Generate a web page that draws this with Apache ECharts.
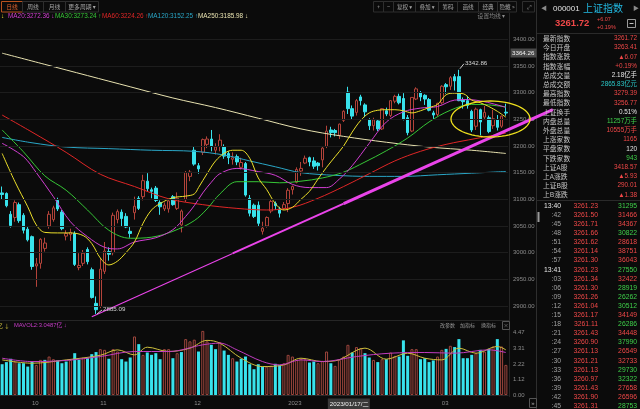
<!DOCTYPE html>
<html>
<head>
<meta charset="utf-8">
<script src="https://cdn.jsdelivr.net/npm/echarts@6.0.0/dist/echarts.min.js"></script>
<style>
html,body{margin:0;padding:0;background:#0b0b0b;overflow:hidden;}
#chart{width:640px;height:409px;}
</style>
</head>
<body>
<div id="chart"></div>
<script>
// ================= DATA =================
const sepDays = [22,23,26,27,28,29,30];
const octDays = [10,11,12,13,14,17,18,19,20,21,24,25,26,27,28,31];
const novDays = [1,2,3,4,7,8,9,10,11,14,15,16,17,18,21,22,23,24,25,28,29,30];
const decDays = [1,2,5,6,7,8,9,12,13,14,15,16,19,20,21,22,23,26,27,28,29,30];
const janDays = [3,4,5,6,9,10,11,12,13,16,17,18,19,20,30,31];
const febDays = [1,2,3,6,7,8,9,10,13,14,15,16,17,20,21,22,23,24,27,28];
const marDays = [1,2,3,6,7,8,9,10,13,14,15,16,17,20,21,22];
const monthTickLabels = ['10','11','12','2023','02','03'];

const opens = [3112,3111,3072,3066,3090,3070,3044,3030,2975,2980,
 3008,3050,3062,3098,3076,3031,3034,3036,2972,2980,
 3006,2968,2905,2899,2965,3002,3000,3062,3076,3068,
 3040,3075,3102,3105,3134,3118,3121,3094,3082,3082,
 3105,3083,3052,3099,3143,3192,3163,3188,3203,3213,
 3192,3199,3198,3186,3175,3180,3160,3167,3102,3089,
 3089,3040,3050,3078,3092,3082,3083,3092,3118,3132,
 3153,3168,3178,3172,3168,3174,3199,3230,3229,3220,
 3248,3301,3270,3263,3292,3277,3249,3238,3247,3232,
 3266,3257,3284,3293,3289,3253,3228,3288,3300,3295,
 3287,3262,3259,3281,3315,3312,3330,3330,3286,3285,
 3265,3237,3268,3254,3253,3238,3249,3237,3263.41];
const closes = [3109,3088,3051,3094,3060,3042,3024,2974,2979,3025,
 3018,3072,3084,3082,3045,3036,3038,2978,2976,2999,
 2983,2916,2893,2969,3003,2997,3070,3077,3064,3048,
 3036,3087,3083,3135,3120,3115,3098,3086,3089,3097,
 3090,3102,3078,3150,3151,3166,3157,3212,3213,3200,
 3198,3211,3181,3178,3178,3170,3169,3108,3074,3068,
 3055,3046,3066,3096,3088,3074,3090,3117,3124,3156,
 3158,3177,3170,3162,3163,3196,3228,3225,3225,3241,
 3265,3270,3256,3285,3285,3264,3238,3249,3232,3270,
 3260,3285,3293,3281,3250,3225,3291,3307,3292,3288,
 3267,3258,3280,3312,3311,3328,3322,3285,3283,3276,
 3230,3269,3245,3263,3227,3251,3235,3256,3261.72];
const lows = [3100,3085,3047,3058,3056,3036,3021,2968,2936,2970,
 3002,3045,3058,3078,3042,3023,3022,2975,2967,2975,
 2978,2914,2885.09,2896,2960,2985,2995,3055,3050,3046,
 3028,3062,3080,3098,3115,3102,3095,3071,3078,3075,
 3088,3080,3038,3095,3134,3163,3148,3183,3196,3190,
 3184,3190,3176,3166,3165,3164,3156,3105,3068,3065,
 3050,3034,3047,3074,3080,3066,3080,3076,3109,3130,
 3144,3166,3162,3157,3154,3160,3196,3216,3218,3213,
 3245,3260,3250,3257,3276,3254,3230,3229,3228,3230,
 3256,3254,3280,3278,3248,3220,3226,3286,3284,3277,
 3265,3249,3256,3278,3298,3305,3304,3284,3270,3270,
 3226,3230,3220,3250,3224,3232,3229,3234,3256.77];
const highs = [3124,3113,3078,3098,3094,3074,3048,3032,2990,3027,
 3028,3078,3088,3103,3080,3042,3045,3040,2999,3005,
 3010,2972,2918,2990,3020,3010,3075,3081,3081,3074,
 3048,3105,3106,3146,3149,3122,3125,3098,3094,3100,
 3108,3113,3081,3153,3155,3198,3168,3214,3218,3230,
 3205,3222,3203,3190,3188,3184,3178,3170,3108,3092,
 3096,3058,3068,3100,3096,3086,3095,3121,3126,3160,
 3170,3182,3180,3179,3170,3198,3238,3236,3232,3242,
 3267,3311,3276,3288,3296,3280,3252,3253,3250,3271,
 3272,3286,3296,3298,3299,3258,3291,3310,3303,3297,
 3290,3266,3281,3314,3318,3331,3335,3342.86,3291,3294,
 3268,3272,3270,3275,3257,3268,3258,3257,3279.39];
// volume (亿手)
const volumes = [2.21,2.36,2.60,2.40,2.28,2.28,2.04,2.40,2.16,2.52,
 2.52,2.76,2.57,2.48,2.28,2.40,2.52,3.00,2.52,2.69,
 2.64,2.93,3.08,3.29,3.24,2.60,3.29,3.12,2.57,2.40,
 2.69,4.20,3.65,2.88,3.05,2.88,3.00,2.57,3.29,3.29,
 2.64,3.00,3.08,4.01,3.85,3.97,3.12,4.60,3.85,3.60,
 3.29,3.80,3.19,2.88,2.64,2.40,2.60,2.76,2.21,1.85,
 2.21,2.04,2.04,2.09,2.24,2.16,2.28,2.88,2.76,2.52,
 2.60,2.57,2.33,2.40,2.28,2.45,3.12,2.28,2.09,2.52,
 2.76,3.60,3.05,3.44,3.36,3.00,2.69,2.52,2.36,2.57,
 2.57,3.05,2.81,2.76,3.92,2.81,3.29,3.29,2.57,2.64,
 2.36,2.48,2.76,3.24,3.31,3.53,3.44,4.01,2.64,2.64,
 2.88,3.00,3.24,3.12,3.31,3.48,4.01,3.48,2.16];

// moving averages: [candle index, value]
const ma10 = [[0,3186],[3,3133],[6,3086],[8,3052],[10,3038],[13,3037],[16,3037],[19,3032],[21,3017],[23,2990],[25,2977],[27,2984],[29,3000],[31,3020],[33,3055],[35,3080],[37,3092],[40,3103],[43,3106],[45,3110],[46,3122],[48,3148],[50,3172],[52,3186],[54,3192],[56,3192],[58,3177],[60,3140],[62,3118],[64,3092],[66,3080],[68,3085],[70,3100],[72,3115],[74,3138],[76,3160],[78,3180],[80,3200],[82,3226],[84,3248],[86,3262],[88,3267],[90,3268],[92,3268],[94,3266],[96,3262],[98,3266],[100,3272],[102,3278],[104,3296],[106,3299],[108,3298],[110,3286],[112,3281],[114,3274],[116,3265],[118,3254]];
const ma20 = [[0,3205],[5,3180],[8,3150],[12,3105],[16,3058],[20,3030],[24,3010],[27,3007],[31,3020],[36,3028],[40,3043],[43,3068],[45,3088],[47,3112],[49,3132],[51,3148],[55,3158],[60,3152],[64,3145],[68,3128],[72,3122],[76,3122],[79,3138],[82,3163],[86,3205],[90,3245],[94,3264],[98,3271],[102,3274],[106,3286],[109,3287],[113,3283],[118,3272.36]];
const ma30 = [[0,3230],[5,3189],[10,3144],[15,3117],[20,3080],[25,3042],[30,3027],[35,3029],[40,3040],[45,3060],[48,3082],[51,3110],[55,3133],[60,3133],[65,3131],[70,3134],[75,3140],[80,3151],[85,3170],[90,3191],[95,3215],[100,3245],[105,3267],[110,3278],[114,3277],[118,3273.24]];
const ma60 = [[0,3258],[7,3226],[15,3188],[23,3147],[31,3124],[39,3101],[47,3090],[55,3083],[62,3080],[68,3085],[74,3102],[80,3124],[86,3148],[92,3172],[98,3190],[104,3203],[111,3214],[118,3224.26]];
const ma120 = [[0,3216],[7,3206],[15,3198],[25,3195],[35,3192],[45,3190],[52,3183],[58,3172],[64,3161],[70,3150],[78,3145],[86,3143],[94,3143],[102,3146],[110,3149],[118,3152.25]];
const ma250 = [[0,3374],[10,3353],[20,3332],[30,3311],[40,3290],[50,3272],[60,3252],[70,3232],[80,3218],[90,3207],[100,3198],[110,3192],[118,3185.98]];
const mavol1 = [[0,2.52],[7,2.28],[15,2.52],[23,2.85],[27,3.24],[31,2.88],[34,3.43],[39,3.12],[44,3.36],[48,3.92],[51,3.72],[56,2.64],[61,2.04],[66,2.16],[70,2.64],[75,2.40],[78,2.45],[85,3.36],[90,2.57],[95,3.00],[99,2.64],[103,2.52],[107,3.36],[111,3.00],[116,3.48],[118,3.24]];
const mavol2 = [[0,2.64],[7,2.40],[15,2.48],[23,2.76],[31,3.12],[39,3.12],[47,3.60],[51,3.72],[55,3.24],[61,2.40],[65,2.16],[70,2.52],[75,2.40],[83,2.76],[91,3.00],[99,3.05],[106,3.00],[114,3.24],[118,3.0487]];

const priceGridValues = [2900,2950,3000,3050,3100,3150,3200,3250,3300,3350,3400];
const volTickLabels = ['0.00','1.12','2.22','3.31','4.47'];
const trendFrom = [21, 2880];
const trendTo = [129, 3268];
const maxMark = [107, 3342.86];
const minMark = [22, 2885.09];
const crossDateIndex = 77;
const crossDateText = '2023/01/17/二';
const crossPriceText = '3364.26';

const maNames = ['MA20','MA30','MA60','MA120','MA250'];
const maLast = ['3272.36','3273.24','3224.26','3152.25','3185.98'];
const maArrows = ['↓','↑','↑','↑','↓'];
const mavolText = 'MAVOL2:3.0487亿';

// right panel quote
const quoteCode = '000001';
const quoteName = '上证指数';
const quotePrice = '3261.72';
const quoteChange = '+6.07';
const quotePct = '+0.19%';
const statNames = ['最新指数','今日开盘','指数涨跌','指数涨幅','总成交量','总成交额','最高指数','最低指数','上证换手','内盘总量','外盘总量','上涨家数','平盘家数','下跌家数','上证A股','上A涨跌','上证B股','上B涨跌'];
const statValues = ['3261.72','3263.41','▲6.07','+0.19%','2.18亿手','2865.83亿元','3279.39','3256.77','0.51%','11257万手','10555万手','1165','120','943','3418.57','▲5.93','290.01','▲1.38'];
const statKinds = ['up','up','up','up','flat','amount','up','up','flat','down','up','up','flat','down','up','up','up','up'];
const tickTimes = ['13:40',':42',':45',':48',':51',':54',':57','13:41',':03',':06',':09',':12',':15',':18',':21',':24',':27',':30',':33',':36',':39',':42',':45'];
const tickPrices = ['3261.23','3261.50','3261.71','3261.66','3261.62','3261.14','3261.30','3261.23','3261.34','3261.30','3261.26','3261.04','3261.17','3261.11','3261.43','3260.90','3261.13','3261.21','3261.13','3260.97','3261.43','3261.90','3261.31'];
const tickVols = ['31295','31466','34367','30822','28618','38751','36043','27550','32422','28919','26262','30512','34149','26286','34448','37990','26549','32733','29730','32322','27658','26596','28753'];
const tickSides = [-1,1,1,-1,1,1,1,-1,1,-1,-1,-1,1,-1,1,-1,1,1,-1,-1,1,1,-1];

const leftTabs = ['日线','周线','月线','更多周期 ▾'];
const rightTools = ['+','−','复权 ▾','叠加 ▾','筹码','画线','经典','隐藏 »','⤢'];
const volTools = ['改参数','加指标','换指标','×'];

// ================= STYLE / LAYOUT =================
const BG = '#0b0b0b';
const UP = '#b3433a', DOWN = '#38e2ec', UPVOL = '#9e463d';
const RED = '#f04848', GREEN = '#3fd04a', GREY = '#c4c4c4', AXIS = '#8c8c8c';
const C_MA10 = '#ecdf2a', C_MA20 = '#d23ed2', C_MA30 = '#36c636', C_MA60 = '#e02626', C_MA120 = '#2aa6c6', C_MA250 = '#e8e2b0';
const FONT = '"Liberation Sans","Noto Sans CJK SC","DejaVu Sans",sans-serif';
const NARROW = '"Liberation Sans Narrow","Liberation Sans","Noto Sans CJK SC","DejaVu Sans",sans-serif';
const CJK = '"Noto Sans CJK SC","Liberation Sans","DejaVu Sans",sans-serif';

// categories
const categories = [];
const monthStart = {};
[[2022,9,sepDays],[2022,10,octDays],[2022,11,novDays],[2022,12,decDays],[2023,1,janDays],[2023,2,febDays],[2023,3,marDays]].forEach(function(m, k){
  if (k > 0) monthStart[categories.length] = monthTickLabels[k-1];
  m[2].forEach(function(d){ categories.push(m[0] + '/' + String(m[1]).padStart(2,'0') + '/' + String(d).padStart(2,'0')); });
});
const N = categories.length;

const candleData = opens.map(function(o,i){ return [o, closes[i], lows[i], highs[i]]; });
const volData = volumes.map(function(v,i){
  const ref = i > 0 ? closes[i-1] : opens[i];
  const up = closes[i] >= ref;
  return {value: v, itemStyle: up ? {color:'rgba(0,0,0,0)', borderColor: UPVOL, borderWidth: 1} : {color: DOWN, borderWidth: 0}};
});

function maLine(data, color, z){
  return {type:'line', xAxisIndex:0, yAxisIndex:0, data:data, smooth:0.35, showSymbol:false, symbol:'none', z:z||3,
    lineStyle:{color:color, width:1}, silent:true, animation:false};
}

const chart = echarts.init(document.getElementById('chart'), null, {renderer:'canvas'});
chart.setOption({
  backgroundColor: BG,
  animation: false,
  grid: [
    {left:0, top:12.63, width:508, height:320.04},
    {left:0, top:332.7, width:508, height:62.3}
  ],
  xAxis: [
    {type:'category', gridIndex:0, data:categories, boundaryGap:true, axisLine:{show:false}, axisTick:{show:false}, axisLabel:{show:false}, splitLine:{show:false}},
    {type:'category', gridIndex:1, data:categories, boundaryGap:true,
      axisLine:{show:true, lineStyle:{color:'#2a2a2a'}}, axisTick:{show:false}, splitLine:{show:false},
      axisLabel:{show:true, color:AXIS, fontSize:6, fontFamily:FONT, margin:5, align:'left',
        interval:function(idx){ return monthStart[idx] !== undefined; },
        formatter:function(v, idx){ return monthStart[idx] !== undefined ? monthStart[idx] : ''; }}}
  ],
  yAxis: [
    {type:'value', gridIndex:0, position:'right', min:2850, max:3450, interval:50,
      axisLine:{show:false}, axisTick:{show:false}, splitLine:{show:false},
      axisLabel:{color:AXIS, fontSize:6, fontFamily:FONT, margin:5,
        formatter:function(v){ return (v <= 2850 || v >= 3450) ? '' : v.toFixed(2); }}},
    {type:'value', gridIndex:1, position:'right', min:0, max:4.47, interval:1.1175,
      axisLine:{show:false}, axisTick:{show:false}, splitLine:{show:false},
      axisLabel:{color:AXIS, fontSize:6, fontFamily:FONT, margin:5,
        formatter:function(v){ return volTickLabels[Math.round(v/1.1175)] || ''; }}}
  ],
  series: [
    {type:'line', xAxisIndex:0, yAxisIndex:0, data:[], z:1, silent:true,
      markLine:{silent:true, symbol:['none','none'], label:{show:false}, animation:false,
        lineStyle:{color:'#1d1d1d', type:'solid', width:1},
        data: priceGridValues.map(function(v){ return {yAxis:v}; })}},
    {type:'candlestick', xAxisIndex:0, yAxisIndex:0, data:candleData, barWidth:3, z:2, silent:true,
      itemStyle:{color:'rgba(0,0,0,0)', color0:DOWN, borderColor:UP, borderColor0:DOWN, borderWidth:1}},
    maLine(ma250, C_MA250),
    maLine(ma120, C_MA120),
    maLine(ma60, C_MA60),
    maLine(ma30, C_MA30),
    maLine(ma20, C_MA20),
    maLine(ma10, C_MA10),
    {type:'bar', xAxisIndex:1, yAxisIndex:1, data:volData, barWidth:3, clip:false, silent:true, z:2},
    {type:'line', xAxisIndex:1, yAxisIndex:1, data:mavol1, smooth:0.35, showSymbol:false, symbol:'none', z:3, lineStyle:{color:'#cdbf3c', width:1}, silent:true},
    {type:'line', xAxisIndex:1, yAxisIndex:1, data:mavol2, smooth:0.35, showSymbol:false, symbol:'none', z:3, lineStyle:{color:'#c03cc0', width:1}, silent:true}
  ]
});

// ================= GRAPHICS =================
function txt(x, y, text, fill, size, align, family, weight){
  align = align || 'left';
  return {type:'text', silent:true, z:100, style:{x:x, y:y, text:String(text), fill:fill,
    font:(weight ? weight + ' ' : '') + size + 'px ' + (family || FONT),
    align:align, textAlign:align, verticalAlign:'middle', textVerticalAlign:'middle'}};
}
function box(x, y, w, h, stroke, fill, z){
  return {type:'rect', silent:true, z:z||99, shape:{x:x, y:y, width:w, height:h}, style:{fill:fill||'none', stroke:stroke||'none', lineWidth:1}};
}
function seg(x1, y1, x2, y2, stroke, w, z){
  return {type:'line', silent:true, z:z||99, shape:{x1:x1, y1:y1, x2:x2, y2:y2}, style:{stroke:stroke, lineWidth:w||1}};
}

const G = [];
// frame lines
G.push(seg(0, 320.5, 509, 320.5, '#262626', 1, 5));
G.push(seg(509.5, 13, 509.5, 397, '#262626', 1, 5));
G.push(seg(536.5, 0, 536.5, 409, '#2e2e2e', 1, 5));
G.push(box(537.5, 212, 2, 10, 'none', '#9a9a9a'));

// left tabs
const tabX = [1, 22, 43, 65], tabW = [21, 21, 22, 33];
leftTabs.forEach(function(t, k){
  G.push(box(tabX[k] + 0.5, 1.5, tabW[k], 10.5, k === 0 ? '#b8521e' : '#2e2e2e'));
  G.push(txt(tabX[k] + tabW[k]/2 + 0.5, 7, t, k === 0 ? '#e0622c' : '#a6a6a6', 5.8, 'center', CJK));
});
// right tools
const toolX = [373, 383, 393, 415, 438, 457, 478, 497, 522], toolW = [10, 10, 22, 23, 19, 21, 19, 19, 12];
rightTools.forEach(function(t, k){
  G.push(box(toolX[k] + 0.5, 1.5, toolW[k], 10.5, '#2e2e2e'));
  G.push(txt(toolX[k] + toolW[k]/2 + 0.5, 7, t, '#a6a6a6', 5.6, 'center', CJK));
});
G.push(txt(505, 16, '设置均线 ▾', '#8a8a8a', 5.8, 'right', CJK));

// MA legend row
G.push(txt(1, 16.5, '↓', C_MA10, 6.5));
const legX = [8, 55, 102, 148, 198], legC = [C_MA20, C_MA30, C_MA60, C_MA120, C_MA250];
maNames.forEach(function(n, k){
  G.push(txt(legX[k], 16.5, n + ':' + maLast[k] + ' ' + maArrows[k], legC[k], 6.4));
});

// volume header
G.push(txt(-3, 325.5, '亿 ↓', '#cdbf3c', 5.8, 'left', CJK));
G.push(txt(14, 325.5, mavolText + ' ↓', '#c83cc8', 5.8, 'left', FONT));
const vtX = [440, 460, 481, 506];
volTools.forEach(function(t, k){
  if (k === 3) G.push(box(502.5, 321.5, 7, 8, '#555'));
  G.push(txt(vtX[k], 325.5, t, '#9a9a9a', 5, k === 3 ? 'center' : 'left', CJK));
});
// bottom right icon
G.push(box(529.5, 398.5, 7, 9, '#555'));
G.push(txt(533, 403, '»', '#aaa', 6, 'center'));

// right panel header
G.push(txt(544, 8.5, '◀', '#8a8a8a', 6, 'center'));
G.push(txt(553, 8.5, quoteCode, '#e2e2e2', 8, 'left', FONT));
G.push(txt(583, 8.5, quoteName, '#22b9e2', 10, 'left', CJK));
G.push(txt(636, 8.5, '▶', '#8a8a8a', 6, 'center'));
G.push(txt(555, 23.5, quotePrice, RED, 9.5, 'left', FONT, 'bold'));
G.push(txt(597, 19.8, quoteChange, RED, 5.5, 'left', FONT));
G.push(txt(597, 27.3, quotePct, RED, 5.5, 'left', FONT));
G.push(box(627.5, 19.5, 8, 8, '#9a9a9a'));
G.push(seg(629.5, 23.5, 633.5, 23.5, '#c0c0c0', 1));
G.push(seg(537, 33.5, 640, 33.5, '#2a2a2a', 1));

const kindColor = {up:RED, down:GREEN, flat:'#e6e6e6', amount:'#2ac6c6'};
statNames.forEach(function(n, k){
  const y = 38.5 + 9.2 * k;
  G.push(txt(543, y, n, GREY, 6.8, 'left', CJK));
  G.push(txt(637, y, statValues[k], kindColor[statKinds[k]], 6.4, 'right', NARROW));
});
G.push(seg(537, 200.5, 640, 200.5, '#2a2a2a', 1));
tickTimes.forEach(function(t, k){
  const y = 206 + 9.1 * k;
  G.push(txt(561, y, t, t.length > 3 ? '#e6e6e6' : '#a0a0a0', 6.8, 'right', FONT));
  G.push(txt(598, y, tickPrices[k], RED, 6.8, 'right', FONT));
  G.push(txt(637, y, tickVols[k], tickSides[k] > 0 ? RED : GREEN, 6.8, 'right', FONT));
});

// ---- data-anchored annotations ----
function px(i, v){
  const a = chart.convertToPixel({gridIndex:0}, [0, v]);
  const b = chart.convertToPixel({gridIndex:0}, [N - 1, v]);
  return [a[0] + (b[0] - a[0]) * i / (N - 1), a[1]];
}
// trend line (magenta), thin on the left, thicker to the right
const brk = [trendFrom[0], 54, 80, trendTo[0]];
const widths = [1.1, 2, 3];
function trendVal(i){ return trendFrom[1] + (trendTo[1] - trendFrom[1]) * (i - trendFrom[0]) / (trendTo[0] - trendFrom[0]); }
for (let s = 0; s < 3; s++) {
  const p1 = px(brk[s], trendVal(brk[s])), p2 = px(brk[s+1], trendVal(brk[s+1]));
  G.push(seg(p1[0], p1[1], p2[0], p2[1], '#ea44ea', widths[s], 60));
}
// yellow ellipse around the last two weeks
const ell = [];
for (let a = 0; a <= 64; a++) {
  const t = a / 64 * Math.PI * 2;
  ell.push([490.5 + 39.5 * Math.cos(t), 119 + 18 * Math.sin(t)]);
}
G.push({type:'polyline', silent:true, z:61, shape:{points:ell}, style:{fill:'none', stroke:'#f0e21e', lineWidth:1.3}});

// max / min labels
const hp = px(maxMark[0], maxMark[1]);
G.push({type:'polyline', silent:true, z:62, shape:{points:[[hp[0]+1, hp[1]-1], [hp[0]+5, hp[1]-6]]}, style:{fill:'none', stroke:'#cfcfcf', lineWidth:1}});
G.push(txt(hp[0] + 6, hp[1] - 6.5, maxMark[1].toFixed(2), '#d6d6d6', 6.2));
const lp = px(minMark[0], minMark[1]);
G.push({type:'polyline', silent:true, z:62, shape:{points:[[lp[0]+1, lp[1]], [lp[0]+6, lp[1]-4]]}, style:{fill:'none', stroke:'#cfcfcf', lineWidth:1}});
G.push(txt(lp[0] + 7, lp[1] - 5, minMark[1].toFixed(2), '#d6d6d6', 6.2));

// crosshair labels
const dp = px(crossDateIndex, 3000);
G.push(box(dp[0] - 3, 398.5, 42, 10.5, 'none', '#3a3a3a', 110));
G.push(Object.assign(txt(dp[0] - 1, 404, crossDateText, '#f0f0f0', 6.2, 'left', FONT), {z:111}));
G.push(box(510.5, 48.5, 26, 9, 'none', '#4a4a4a', 110));
G.push(Object.assign(txt(512, 53, crossPriceText, '#f2f2f2', 6.2, 'left', FONT), {z:111}));

chart.setOption({graphic:{elements:G}});
</script>
</body>
</html>
